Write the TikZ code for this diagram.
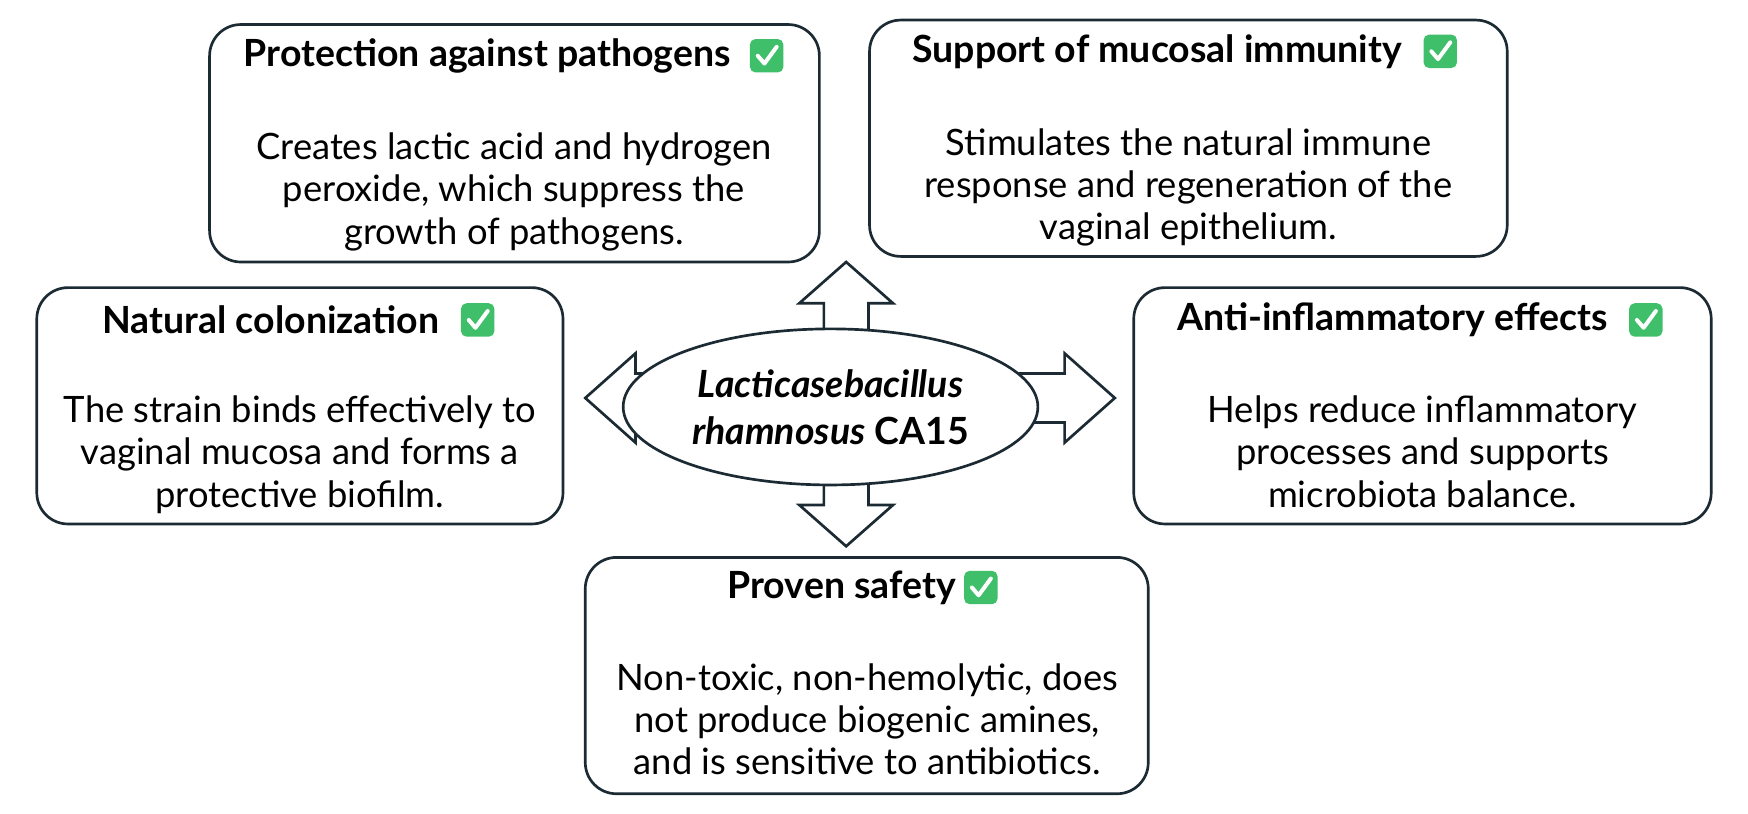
\documentclass[tikz,border=0pt]{standalone}
\usepackage{fontspec}
\setmainfont{Lato}
\usetikzlibrary{shapes.geometric,positioning}
\definecolor{edge}{HTML}{1B2A33}
\definecolor{chkgreen}{HTML}{3FBF6A}
\tikzset{
  card/.style={draw=edge,line width=1.2pt,rounded corners=14pt,fill=white},
  head/.style={font=\bfseries\fontsize{16.8}{20}\selectfont,anchor=center},
  body/.style={font=\fontsize{16.3}{19}\selectfont,align=center,anchor=north},
  tick/.style={fill=chkgreen,rounded corners=2.5pt,minimum size=15pt,inner sep=0pt},
  fat/.style={draw=edge,line width=1.2pt,fill=white,line join=miter}
}
\newcommand{\ticks}[1]{%
  \draw[white,line width=1.8pt,line cap=round,line join=round]
    ([shift={(-4pt,0pt)}]#1.center) -- ([shift={(-1pt,-3.5pt)}]#1.center) -- ([shift={(4.5pt,4pt)}]#1.center);}
\begin{document}
\begin{tikzpicture}[x=0.5pt,y=-0.5pt]
\useasboundingbox (0,0) rectangle (1568,730);
% block arrows behind the ellipse
\draw[fat] (525,357) -- (570,317) -- (570,335) -- (955,335) -- (955,317) -- (1000,357)
  -- (955,397) -- (955,379) -- (570,379) -- (570,397) -- cycle;
\draw[fat] (759,235) -- (801,272) -- (779,272) -- (779,453) -- (801,453) -- (759,490)
  -- (717,453) -- (739,453) -- (739,272) -- (717,272) -- cycle;
\node[ellipse,draw=edge,line width=1.2pt,fill=white,minimum width=186pt,minimum height=70pt,
  align=center,font=\bfseries\fontsize{16.8}{21}\selectfont] (core) at (745,365)
  {\itshape Lacticasebacillus\\ {\itshape rhamnosus} CA15};
% cards
\draw[card] (188,22) rectangle (735,235);
\node[head] (tProt) at (437,50) {Protection against pathogens};
\node[body] (bProt) at (461,112) {Creates lactic acid and hydrogen\\peroxide, which suppress the\\growth of pathogens.};
\draw[card] (780,18) rectangle (1352,230);
\node[head] (tSupp) at (1038,46) {Support of mucosal immunity};
\node[body] (bSupp) at (1066,108) {Stimulates the natural immune\\response and regeneration of the\\vaginal epithelium.};
\draw[card] (33,258) rectangle (505,470);
\node[head] (tNat) at (243,287) {Natural colonization};
\node[body] (bNat) at (269,348) {The strain binds effectively to\\vaginal mucosa and forms a\\protective biofilm.};
\draw[card] (1017,258) rectangle (1535,470);
\node[head] (tAnti) at (1249,287) {Anti-inflammatory effects};
\node[body] (bAnti) at (1276,348) {Helps reduce inflammatory\\processes and supports\\microbiota balance.};
\draw[card] (525,500) rectangle (1030,712);
\node[head] (tSafe) at (755,527) {Proven safety};
\node[body] (bSafe) at (778,588) {Non-toxic, non-hemolytic, does\\not produce biogenic amines,\\and is sensitive to antibiotics.};
% check marks
\foreach \t/\g in {tProt/5,tSupp/6,tNat/6,tAnti/6,tSafe/0}{
  \node[tick,right=\g pt of \t] (k\t) {};
  \ticks{k\t}
}
\end{tikzpicture}
\end{document}
